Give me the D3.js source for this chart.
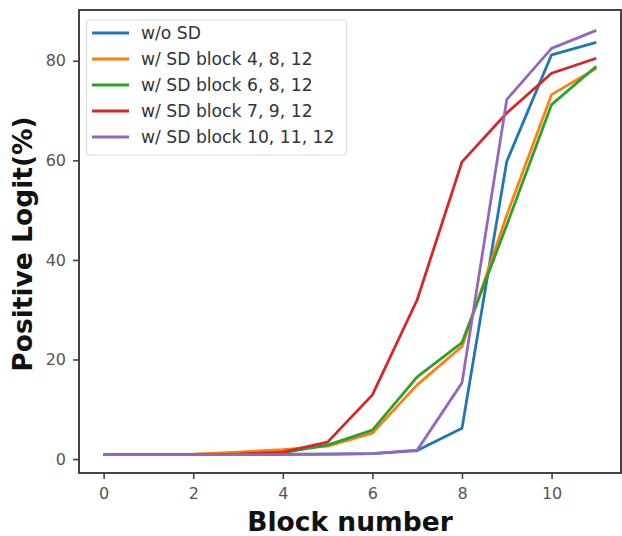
<!DOCTYPE html>
<html><head><meta charset="utf-8">
<script src="https://cdn.jsdelivr.net/npm/d3@7"></script>
<style>body{margin:0;background:#fff}</style>
</head><body><svg id="c" width="622" height="536"></svg>
<script>
const blocks = [0,1,2,3,4,5,6,7,8,9,10,11];
const seriesNames = ["w/o SD","w/ SD block 4, 8, 12","w/ SD block 6, 8, 12","w/ SD block 7, 9, 12","w/ SD block 10, 11, 12"];
const woSD      = [0.9,0.9,0.9,0.9,1.0,1.0,1.1,1.7,6.2,59.8,81.2,83.7];
const sd4_8_12  = [0.9,0.9,1.0,1.4,1.9,2.6,5.2,14.9,22.6,49,73.2,78.5];
const sd6_8_12  = [0.9,0.9,0.9,1.0,1.3,2.8,5.8,16.5,23.4,47,71.2,78.9];
const sd7_9_12  = [0.9,0.9,0.9,1.0,1.4,3.4,12.9,32.0,59.7,69.5,77.5,80.5];
const sd10_11_12= [0.9,0.9,0.9,0.9,0.9,1.0,1.1,1.8,15.3,72.2,82.5,86.1];
const xTicks = [0,2,4,6,8,10];
const yTicks = [0,20,40,60,80];
const colors = ["#1f77b4","#ff7f0e","#2ca02c","#d62728","#9467bd"];
const allSeries = [woSD, sd4_8_12, sd6_8_12, sd7_9_12, sd10_11_12];

const svg = d3.select("#c");
const L=79, R=621, T=10, B=473;
const x = d3.scaleLinear().domain([-0.55,11.55]).range([L,R]);
const y = d3.scaleLinear().domain([-2.8,90.2]).range([B,T]);

const line = d3.line().x((d,i)=>x(blocks[i])).y(d=>y(d));
allSeries.forEach((s,k)=>{
  svg.append("path").datum(s).attr("d",line).attr("fill","none")
    .attr("stroke",colors[k]).attr("stroke-width",2.8).attr("stroke-linejoin","round");
});

// frame
svg.append("rect").attr("x",L).attr("y",T).attr("width",R-L).attr("height",B-T)
  .attr("fill","none").attr("stroke","#444").attr("stroke-width",2);

const xa = svg.append("g").attr("transform",`translate(0,${B})`)
  .call(d3.axisBottom(x).tickValues(xTicks).tickSize(6).tickPadding(9).tickFormat(d3.format("d")));
const ya = svg.append("g").attr("transform",`translate(${L},0)`)
  .call(d3.axisLeft(y).tickValues(yTicks).tickSize(6).tickPadding(7).tickFormat(d3.format("d")));
[xa,ya].forEach(a=>{
  a.select(".domain").remove();
  a.selectAll(".tick line").attr("stroke","#444").attr("stroke-width",1.6);
  a.selectAll(".tick text").attr("font-family","DejaVu Sans").attr("font-size",16).attr("fill","#555");
});

svg.append("text").attr("x",350).attr("y",531).attr("text-anchor","middle")
  .attr("font-family","DejaVu Sans").attr("font-weight","bold").attr("font-size",26.5).attr("fill","#111")
  .text("Block number");
svg.append("text").attr("transform","translate(32,244) rotate(-90)").attr("text-anchor","middle")
  .attr("font-family","DejaVu Sans").attr("font-weight","bold").attr("font-size",26.5).attr("fill","#111")
  .text("Positive Logit(%)");

// legend
const lg = svg.append("g");
lg.append("rect").attr("x",86.5).attr("y",20).attr("width",260).attr("height",135).attr("rx",3)
  .attr("fill","#fff").attr("stroke","#ddd").attr("stroke-width",1.2);
seriesNames.forEach((n,k)=>{
  const yy = 33 + k*26;
  lg.append("line").attr("x1",92).attr("x2",129).attr("y1",yy).attr("y2",yy)
    .attr("stroke",colors[k]).attr("stroke-width",2.8);
  lg.append("text").attr("x",141).attr("y",yy+6).attr("font-family","DejaVu Sans")
    .attr("font-size",17.2).attr("fill","#333").text(n);
});
</script></body></html>
